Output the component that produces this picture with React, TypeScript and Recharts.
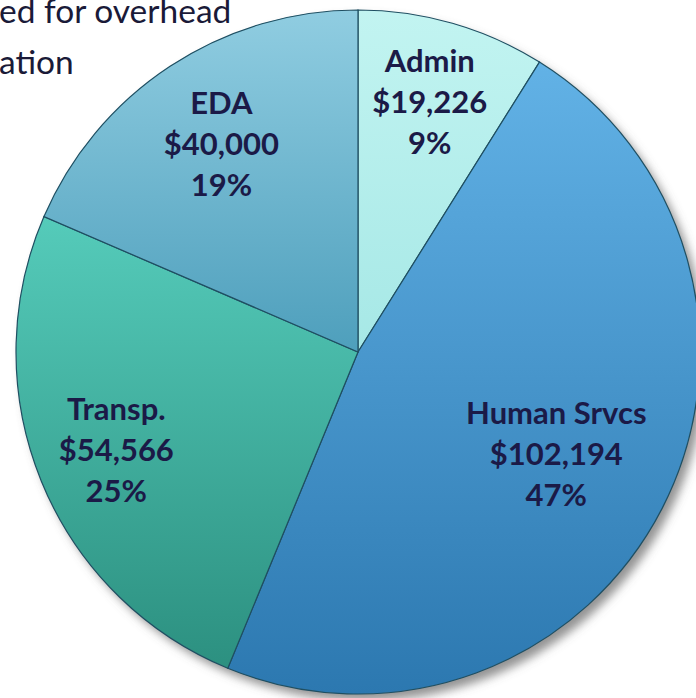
import React from 'react';
import { PieChart, Pie, Cell } from 'recharts';

const categories = ['Admin', 'Human Srvcs', 'Transp.', 'EDA'];
const amounts = [19226, 102194, 54566, 40000];
const introLines = ['ed for overhead', 'ation'];

const data = categories.map((name, i) => ({ name, value: amounts[i] }));

const gradients = [
  { id: 'gAdmin', top: '#c2f4f1', bottom: '#a6e8e6' },
  { id: 'gHuman', top: '#62b2e6', bottom: '#2c78b0' },
  { id: 'gTransp', top: '#55cbba', bottom: '#2c9080' },
  { id: 'gEda', top: '#90cde1', bottom: '#4e9fbc' },
];

const labelFactor: Record<string, number> = {
  Admin: 0.76,
  'Human Srvcs': 0.652,
  'Transp.': 0.763,
  EDA: 0.727,
};

const RADIAN = Math.PI / 180;

const renderLabel = (props: any) => {
  const { cx, cy, midAngle, outerRadius, name, value, percent } = props;
  const r = outerRadius * (labelFactor[name] ?? 0.7);
  const x = cx + r * Math.cos(-midAngle * RADIAN);
  const y = cy + r * Math.sin(-midAngle * RADIAN);
  const lines = [name, '$' + value.toLocaleString('en-US'), Math.round(percent * 100) + '%'];
  return (
    <text
      x={x}
      y={y}
      textAnchor="middle"
      fill="#1b1a47"
      fontFamily="Lato, 'Open Sans', sans-serif"
      fontWeight={700}
      fontSize={31}
    >
      {lines.map((l, i) => (
        <tspan key={i} x={x} y={y + (i - 1) * 41} dy="0.35em">
          {l}
        </tspan>
      ))}
    </text>
  );
};

export default function App() {
  return (
    <div style={{ position: 'absolute', left: 0, top: 0, width: 696, height: 698, background: '#fff', overflow: 'hidden' }}>
      <PieChart width={696} height={698} margin={{ top: 0, right: 0, bottom: 0, left: 0 }}>
        <defs>
          {gradients.map((g) => (
            <linearGradient key={g.id} id={g.id} x1="0" y1="0" x2="0" y2="1">
              <stop offset="0%" stopColor={g.top} />
              <stop offset="100%" stopColor={g.bottom} />
            </linearGradient>
          ))}
          <filter id="shadow" x="-20%" y="-20%" width="140%" height="140%">
            <feGaussianBlur stdDeviation="5" />
          </filter>
        </defs>
        <Pie
          data={[{ name: 'shadow', value: 1 }]}
          dataKey="value"
          cx={364}
          cy={359}
          outerRadius={342}
          startAngle={90}
          endAngle={-270}
          stroke="none"
          fill="#666"
          fillOpacity={0.7}
          style={{ filter: 'url(#shadow)' }}
          isAnimationActive={false}
          label={false}
          labelLine={false}
        />
        <Pie
          data={data}
          dataKey="value"
          nameKey="name"
          cx={358}
          cy={352}
          outerRadius={342}
          startAngle={90}
          endAngle={-270}
          stroke="#1f4f62"
          strokeWidth={1.2}
          isAnimationActive={false}
          label={renderLabel}
          labelLine={false}
        >
          {data.map((d, i) => (
            <Cell key={d.name} fill={`url(#${gradients[i].id})`} />
          ))}
        </Pie>
      </PieChart>
      <div
        style={{
          position: 'absolute',
          left: -1,
          top: -15,
          fontFamily: "Lato, 'Open Sans', sans-serif",
          fontSize: 33.5,
          lineHeight: '51px',
          color: '#1a1a38',
          whiteSpace: 'pre',
        }}
      >
        {introLines.map((l, i) => (
          <div key={i}>{l}</div>
        ))}
      </div>
    </div>
  );
}
